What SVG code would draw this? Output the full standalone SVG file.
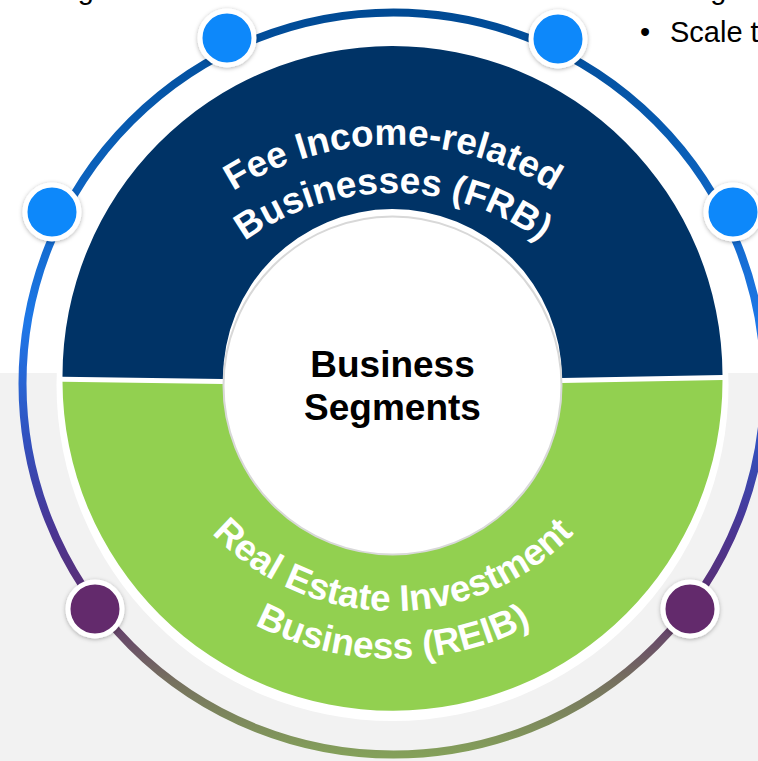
<svg xmlns="http://www.w3.org/2000/svg" width="758" height="761" viewBox="0 0 758 761">
<defs>
<style>
.seg{font-family:"Liberation Sans",Arial,sans-serif;font-weight:bold;font-size:37px;fill:#ffffff;}
.ctr{font-family:"Liberation Sans",Arial,sans-serif;font-weight:bold;font-size:37px;fill:#000000;text-anchor:middle;}
.side{font-family:"Liberation Sans",Arial,sans-serif;font-size:29px;fill:#000000;}
.nb{fill:#0d88fa;stroke:#ffffff;stroke-width:5;filter:url(#sh);}
.np{fill:#632b6c;stroke:#ffffff;stroke-width:5;filter:url(#sh);}
</style>
<linearGradient id="ring" gradientUnits="userSpaceOnUse" x1="0" y1="12" x2="0" y2="755">
<stop offset="0" stop-color="#004a94"/>
<stop offset="0.2" stop-color="#0a5fb8"/>
<stop offset="0.42" stop-color="#1e78e8"/>
<stop offset="0.58" stop-color="#3350bd"/>
<stop offset="0.7" stop-color="#4b3592"/>
<stop offset="0.8" stop-color="#5d2f6f"/>
<stop offset="0.9" stop-color="#76705f"/>
<stop offset="1" stop-color="#84a05a"/>
</linearGradient>
<filter id="sh" x="-30%" y="-30%" width="160%" height="160%">
<feDropShadow dx="0" dy="1" stdDeviation="2" flood-color="#000000" flood-opacity="0.3"/>
</filter>
<path id="tp1" d="M 93,445 A 300 300 0 0 1 693,445"/>
<path id="tp2" d="M 141,445 A 252 252 0 0 1 645,445"/>
<path id="bp1" d="M 143,361 A 250 250 0 0 0 643,361"/>
<path id="bp2" d="M 95,361 A 298 298 0 0 0 691,361"/>
</defs>
<rect x="0" y="0" width="758" height="761" fill="#ffffff"/>
<rect x="0" y="373" width="758" height="388" fill="#f2f2f2"/>
<text class="side" x="131" y="-1" text-anchor="end">strategies</text>
<text class="side" x="670" y="-1">Target</text>
<text class="side" x="640" y="42">•</text>
<text class="side" x="670" y="42">Scale t</text>
<g id="connectors">
<circle cx="393.5" cy="383.5" r="371" fill="none" stroke="url(#ring)" stroke-width="8"/>
</g>
<g id="donut">
<circle cx="392.5" cy="385" r="336" fill="#ffffff"/>
<path d="M 62.5,376.7 A 330 330 0 0 1 722.5,375 L 562,378 A 167 167 0 0 0 223,379 Z" fill="#003366"/>
<path d="M 62.5,381.7 A 330 330 0 0 0 722.5,380 L 562,383 A 167 167 0 0 1 223,384 Z" fill="#92d050"/>
</g>
<g id="frb">
<text class="seg"><textPath href="#tp1" startOffset="50%" text-anchor="middle">Fee Income-related</textPath></text>
<text class="seg"><textPath href="#tp2" startOffset="50%" text-anchor="middle">Businesses (FRB)</textPath></text>
</g>
<g id="reib">
<text class="seg"><textPath href="#bp1" startOffset="50%" text-anchor="middle">Real Estate Investment</textPath></text>
<text class="seg"><textPath href="#bp2" startOffset="50%" text-anchor="middle">Business (REIB)</textPath></text>
</g>
<g id="center">
<circle cx="392.5" cy="385.5" r="169" fill="#ffffff" stroke="#d8d8d8" stroke-width="2"/>
<text class="ctr" x="392.5" y="377">Business</text>
<text class="ctr" x="392.5" y="420">Segments</text>
</g>
<g id="node-top-left"><circle class="nb" cx="227" cy="38" r="27"/></g>
<g id="node-top-right"><circle class="nb" cx="558" cy="39" r="27"/></g>
<g id="node-left"><circle class="nb" cx="52" cy="212" r="27"/></g>
<g id="node-right"><circle class="nb" cx="733" cy="212" r="27"/></g>
<g id="node-bottom-left"><circle class="np" cx="95" cy="609" r="27"/></g>
<g id="node-bottom-right"><circle class="np" cx="690" cy="609" r="27"/></g>
</svg>
